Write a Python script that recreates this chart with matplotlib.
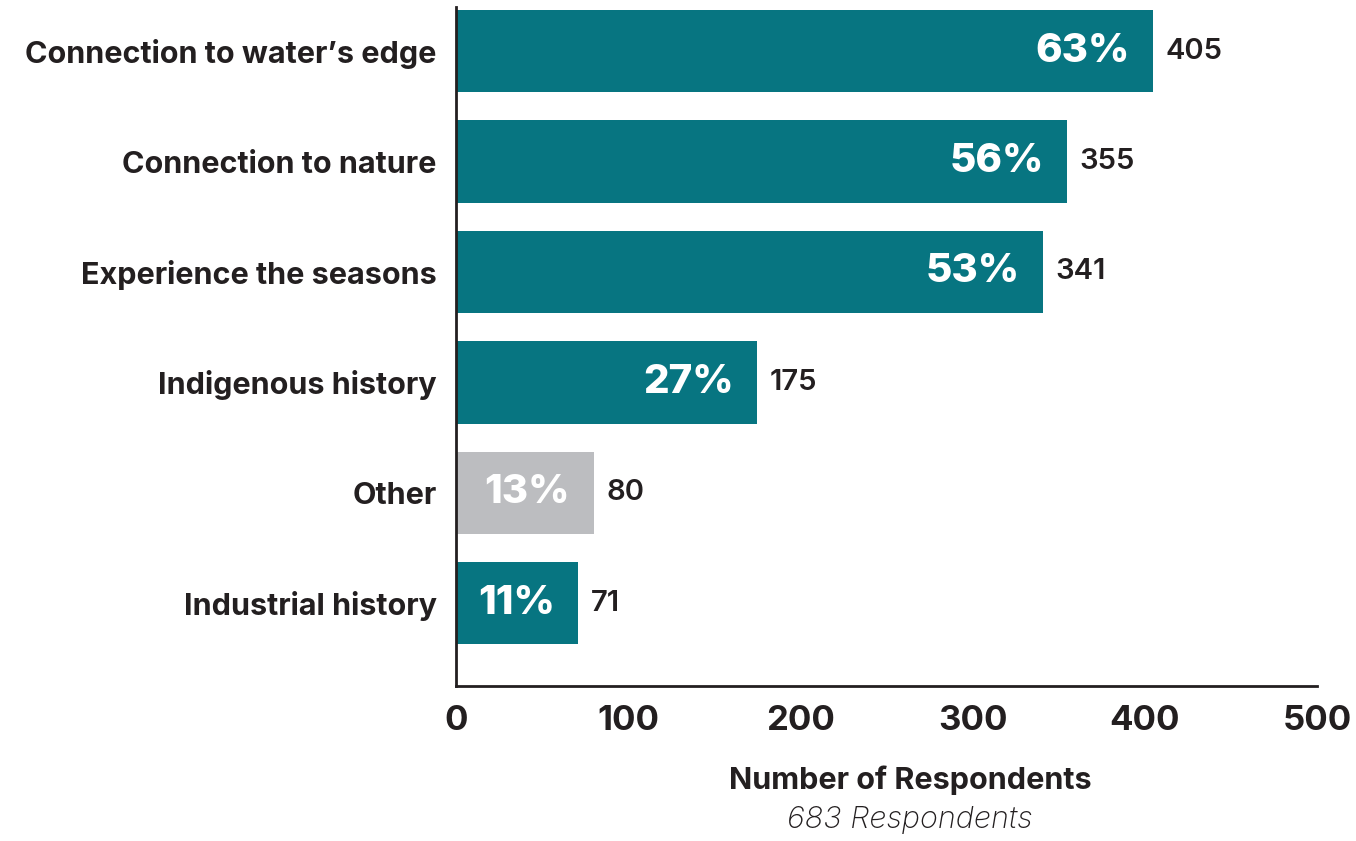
import matplotlib
matplotlib.use("Agg")
import matplotlib.pyplot as plt

categories = ["Connection to water\u2019s edge", "Connection to nature", "Experience the seasons",
              "Indigenous history", "Other", "Industrial history"]
counts = [405, 355, 341, 175, 80, 71]
percents = ["63%", "56%", "53%", "27%", "13%", "11%"]
colors = ["#077581", "#077581", "#077581", "#077581", "#bcbdc0", "#077581"]

plt.rcParams['font.family'] = ['Inter', 'DejaVu Sans']

fig = plt.figure(figsize=(13.56, 8.41), dpi=100)
ax = fig.add_axes([456 / 1356, 1 - 686 / 841, (1317 - 456) / 1356, (686 - 7) / 841])

y = list(range(len(categories)))
ax.barh(y, counts, height=0.745, color=colors)
ax.set_ylim(5.75, -0.4)
ax.set_xlim(0, 500)

for i in y:
    ax.annotate(percents[i], (counts[i], i), xytext=(-17, 0), textcoords="offset points",
                ha="right", va="center", color="white", fontsize=29, fontweight="heavy")
    ax.annotate(str(counts[i]), (counts[i], i), xytext=(9, 0), textcoords="offset points",
                ha="left", va="center", color="#231f20", fontsize=21, fontweight="semibold")

ax.set_yticks(y)
ax.set_yticklabels(categories, fontsize=22, fontweight="bold", color="#231f20")
ax.set_xticks([0, 100, 200, 300, 400, 500])
ax.tick_params(axis="x", labelsize=25, length=0, pad=14, labelcolor="#231f20")
ax.tick_params(axis="y", length=0, pad=14)
for lbl in ax.get_xticklabels():
    lbl.set_fontweight("bold")

for s in ["top", "right"]:
    ax.spines[s].set_visible(False)
for s in ["left", "bottom"]:
    ax.spines[s].set_linewidth(2)
    ax.spines[s].set_color("#231f20")

fig.text(910 / 1356, 1 - 780 / 841, "Number of Respondents", ha="center", va="center",
         fontsize=22, fontweight="bold", color="#231f20")
fig.text(910 / 1356, 1 - 820 / 841, "683 Respondents", ha="center", va="center",
         fontsize=22, style="italic", fontweight="light", color="#231f20")

fig.savefig("out.png", dpi=100, facecolor="white")
